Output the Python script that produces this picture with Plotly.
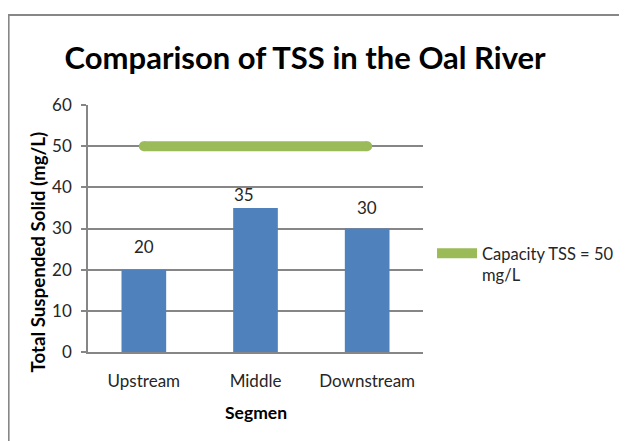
import plotly.graph_objects as go

categories = ["Upstream", "Middle", "Downstream"]
tss_values = [20, 35, 30]
capacity_values = [50, 50, 50]
capacity_label = "Capacity TSS = 50<br>mg/L"
y_ticks = [0, 10, 20, 30, 40, 50, 60]

FONT = "Lato"
BLUE = "#4F81BD"
GREEN = "#9BBB59"
GRID = "#868686"
TXT = "#262626"

# label offsets (pixels) as in the original chart
label_xshift = [0, -12, 0]
label_yshift = [11, 1, 9]

fig = go.Figure()
fig.add_trace(go.Bar(x=categories, y=tss_values, marker=dict(color=BLUE, line=dict(width=0)),
                     showlegend=False, width=0.4))
fig.add_trace(go.Scatter(x=categories, y=capacity_values, mode="lines",
                         line=dict(color=GREEN, width=10), name=capacity_label))
fig.add_trace(go.Scatter(x=[categories[0], categories[-1]], y=[capacity_values[0], capacity_values[-1]],
                         mode="markers", marker=dict(color=GREEN, size=10, line=dict(width=0)),
                         showlegend=False, hoverinfo="skip"))

for c, v, xs, ys in zip(categories, tss_values, label_xshift, label_yshift):
    fig.add_annotation(x=c, y=v, text=str(v), showarrow=False, xanchor="center", yanchor="bottom",
                       xshift=xs, yshift=ys, font=dict(family=FONT, size=17, color=TXT))

fig.add_annotation(xref="paper", yref="paper", x=-0.148, y=0.405, text="<b>Total Suspended Solid (mg/L)</b>",
                   textangle=-90, showarrow=False, xanchor="center", yanchor="middle",
                   font=dict(family=FONT, size=18.7, color="#000"))
fig.add_annotation(xref="paper", yref="paper", x=0.5, y=-0.243, text="<b>Segmen</b>",
                   showarrow=False, xanchor="center", yanchor="middle",
                   font=dict(family=FONT, size=17.5, color="#000"))

fig.add_shape(type="rect", xref="paper", yref="paper", x0=-0.237, y0=-0.5, x1=1.7, y1=1.364,
              line=dict(color="#878787", width=2), fillcolor="rgba(0,0,0,0)", layer="below")

fig.update_layout(
    width=619, height=433,
    margin=dict(l=80, r=204, t=97, b=89, autoexpand=False),
    paper_bgcolor="white", plot_bgcolor="white",
    title=dict(text="<b>Comparison of TSS in the Oal River</b>", xref="container", yref="container",
               x=0.48, y=0.8845, xanchor="center", yanchor="middle",
               font=dict(family=FONT, size=31, color="#000")),
    font=dict(family=FONT, size=17, color=TXT),
    xaxis=dict(showline=True, linecolor=GRID, linewidth=1.5, ticks="", showgrid=False,
               ticklabelstandoff=13, tickfont=dict(size=17, color=TXT)),
    yaxis=dict(range=[0, 60], tickvals=y_ticks, showline=True, linecolor=GRID, linewidth=1.5,
               showgrid=True, gridcolor=GRID, gridwidth=1.5, ticks="outside", ticklen=5,
               tickcolor=GRID, tickwidth=1.5, zeroline=False, ticklabelstandoff=6,
               tickfont=dict(size=17, color=TXT)),
    legend=dict(x=1.027, y=0.47, xanchor="left", yanchor="top", itemwidth=40, valign="top",
                font=dict(family=FONT, size=16.5, color=TXT), bgcolor="rgba(0,0,0,0)"),
    bargap=0.6,
)

fig.write_html("out.html")
